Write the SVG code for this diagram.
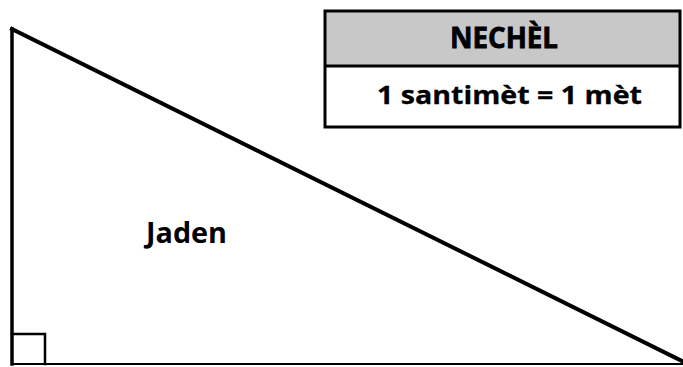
<svg xmlns="http://www.w3.org/2000/svg" width="683" height="367" viewBox="0 0 683 367">
<style>
.edge{stroke:#000;fill:none;stroke-linecap:square}
.t{font-family:"Open Sans","Liberation Sans",Arial,sans-serif;font-weight:bold;fill:#000}
</style>
<rect width="683" height="367" fill="#fff"/>
<g id="garden">
<line class="edge" x1="12" y1="29" x2="12" y2="364" stroke-width="3.5"/>
<line class="edge" x1="12" y1="29" x2="682" y2="361" stroke-width="4"/>
<line class="edge" x1="12" y1="364" x2="682" y2="364" stroke-width="2"/>
<polyline class="edge" points="12,334 45,334 45,364" stroke-width="2.5"/>
<text class="t" x="146" y="243" font-size="29" textLength="81" lengthAdjust="spacingAndGlyphs">Jaden</text>
</g>
<g id="scale">
<rect x="325" y="11" width="355" height="55" fill="#c8c8c8"/>
<rect x="325" y="11" width="355" height="116" fill="none" stroke="#000" stroke-width="3"/>
<line x1="325" y1="66" x2="680" y2="66" stroke="#000" stroke-width="3"/>
<text class="t" x="450" y="48" font-size="29" stroke="#000" stroke-width="0.8" textLength="108" lengthAdjust="spacingAndGlyphs">NECHÈL</text>
<text class="t" x="377" y="104" font-size="25.5" stroke="#000" stroke-width="0.3" textLength="265" lengthAdjust="spacingAndGlyphs">1 santimèt = 1 mèt</text>
</g>
</svg>
